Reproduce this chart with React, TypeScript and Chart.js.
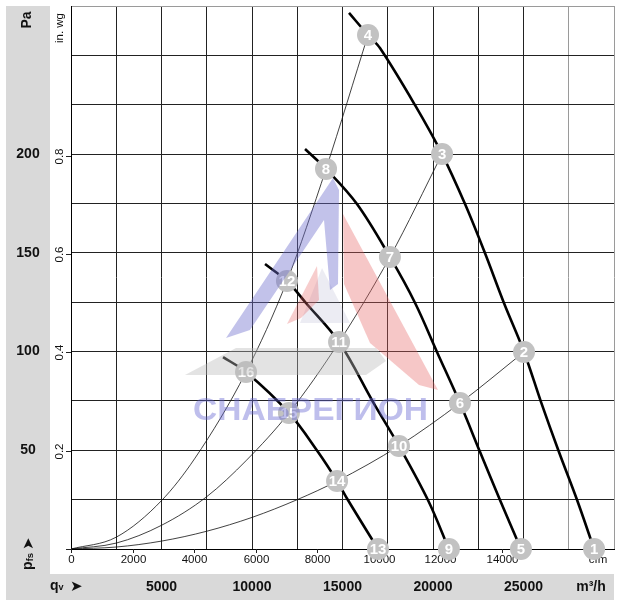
import { useEffect, useRef } from "react";
import { Chart, registerables } from "chart.js";

Chart.register(...registerables);

// ---- axis ranges (m³/h and Pa) ----
const flowMin = 0;
const flowMax = 30000;
const flowStep = 2500;
const pressMin = 0;
const pressMax = 275;
const pressStep = 25;

// ---- tick labels ----
const paLabels = [50, 100, 150, 200];
const m3hLabels = [5000, 10000, 15000, 20000, 25000];
const inwgTicks = [0, 0.2, 0.4, 0.6, 0.8];
const cfmTicks = [0, 2000, 4000, 6000, 8000, 10000, 12000, 14000];
const PA_PER_INWG = 249.089;
const M3H_PER_CFM = 1.699011;

// ---- fan curves (flow m³/h, static pressure Pa) ----
const curveAFlow = [15360, 16410, 17070, 19000, 20500, 21770, 22870, 23920, 25030, 25970, 26960, 27960, 28900];
const curveAPress = [271.5, 260.3, 253.7, 224.9, 200.0, 174.7, 149.9, 124.6, 99.8, 74.4, 49.1, 24.8, 0];
const curveBFlow = [12930, 14090, 15800, 17620, 19010, 20220, 21490, 22600, 23700, 24860];
const curveBPress = [202.6, 192.5, 174.7, 147.9, 124.6, 99.8, 73.9, 49.1, 24.8, 0];
const curveCFlow = [10720, 11930, 12980, 14810, 16690, 18120, 19720, 20880];
const curveCPress = [144.3, 135.7, 124.6, 104.8, 74.4, 52.2, 24.8, 0];
const curveDFlow = [8400, 9670, 12040, 13650, 14700, 15300, 16960];
const curveDPress = [97.2, 89.6, 68.9, 49.1, 34.4, 24.8, 0];

// ---- system curves ----
const sys1Flow = [0, 2500, 5000, 6850, 9670, 11930, 14090, 16410];
const sys1Press = [0, 6, 24.5, 46, 89.6, 135.7, 192.5, 260.3];
const sys2Flow = [0, 2500, 5000, 7500, 9700, 12040, 14810, 17620, 20500];
const sys2Press = [0, 3, 12, 26.5, 45, 68.9, 104.8, 147.9, 200.0];
const sys3Flow = [0, 2500, 5000, 7500, 10000, 12500, 14700, 18120, 21490, 25030];
const sys3Press = [0, 1, 4, 9, 16, 25, 34.4, 52.2, 73.9, 99.8];

// ---- numbered operating points ----
const markerLabels = ["1", "2", "3", "4", "5", "6", "7", "8", "9", "10", "11", "12", "13", "14", "15", "16"];
const markerFlow = [28900, 25030, 20500, 16410, 24860, 21490, 17620, 14090, 20880, 18120, 14810, 11930, 16960, 14700, 12040, 9670];
const markerPress = [0, 99.8, 200.0, 260.3, 0, 73.9, 147.9, 192.5, 0, 52.2, 104.8, 135.7, 0, 34.4, 68.9, 89.6];

const FONT = "'Liberation Sans', Arial, sans-serif";
const BAND = "#d9d9d9";

// watermark shapes, in reference-layout units (chart area = 543 x 543, origin 71,6)
const WM_BLUE = [[333, 178], [226, 338], [250, 330], [324, 220], [330, 290], [338, 284], [339, 190]];
const WM_RED = [[343, 214], [438, 390], [419, 385], [370, 343], [344, 284]];
const WM_RED_SMALL = [[317, 266], [287, 324], [301, 318], [319, 300]];
const WM_GREY = [[185, 375], [236, 348], [376, 348], [386, 361], [366, 375]];
const WM_GREY_TRI = [[322, 268], [300, 323], [350, 323]];

const toPts = (xs: number[], ys: number[]) => xs.map((x, i) => ({ x, y: ys[i] }));

const framePlugin = {
  id: "framePlugin",
  beforeDraw(chart: any) {
    const { ctx, chartArea: ca } = chart;
    ctx.save();
    ctx.fillStyle = "#ffffff";
    ctx.fillRect(0, 0, chart.width, chart.height);
    ctx.fillStyle = BAND;
    const bandLeft = 6;
    const bandRight = ca.left - 21;
    ctx.fillRect(bandLeft, ca.top, bandRight - bandLeft, ca.bottom + 51 - ca.top);
    ctx.fillRect(bandLeft, ca.bottom + 25, ca.right - bandLeft, 26);
    ctx.restore();
  },
  beforeDatasetsDraw(chart: any) {
    const { ctx, chartArea: ca } = chart;
    const xs = chart.scales.x;
    const ys = chart.scales.y;
    const bandMid = (6 + ca.left - 21) / 2;
    ctx.save();
    ctx.fillStyle = "#111";
    ctx.textAlign = "center";
    ctx.textBaseline = "middle";

    // Pa labels
    ctx.font = `bold 14px ${FONT}`;
    for (const v of paLabels) {
      ctx.fillText(String(v), bandMid, ys.getPixelForValue(v));
    }
    // "Pa"
    ctx.save();
    ctx.translate(bandMid - 1, ca.top + 14);
    ctx.rotate(-Math.PI / 2);
    ctx.fillText("Pa", 0, 0);
    ctx.restore();

    // in. wg ticks + labels
    ctx.font = `11.5px ${FONT}`;
    ctx.strokeStyle = "#222";
    ctx.lineWidth = 1;
    for (const v of inwgTicks) {
      const y = Math.round(ys.getPixelForValue(v * PA_PER_INWG)) + 0.5;
      ctx.beginPath();
      ctx.moveTo(ca.left - 5, y);
      ctx.lineTo(ca.left, y);
      ctx.stroke();
      if (v > 0) {
        ctx.save();
        ctx.translate(ca.left - 11, y);
        ctx.rotate(-Math.PI / 2);
        ctx.fillText(v.toFixed(1), 0, 0);
        ctx.restore();
      }
    }
    ctx.save();
    ctx.translate(ca.left - 11, ca.top + 22);
    ctx.rotate(-Math.PI / 2);
    ctx.fillText("in. wg", 0, 0);
    ctx.restore();

    // cfm ticks + labels
    for (const v of cfmTicks) {
      const x = Math.round(xs.getPixelForValue(v * M3H_PER_CFM)) + 0.5;
      ctx.beginPath();
      ctx.moveTo(x, ca.bottom);
      ctx.lineTo(x, ca.bottom + 4);
      ctx.stroke();
      ctx.fillText(String(v), x, ca.bottom + 11);
    }
    ctx.fillText("cfm", ca.right - 16, ca.bottom + 11);

    // m³/h labels
    ctx.font = `bold 14px ${FONT}`;
    const bandY = ca.bottom + 38;
    for (const v of m3hLabels) {
      ctx.fillText(String(v), xs.getPixelForValue(v), bandY);
    }
    ctx.fillText("m³/h", ca.right - 23, bandY);

    // qv ➤
    ctx.textAlign = "left";
    ctx.font = `bold 14px ${FONT}`;
    ctx.fillText("q", 50, bandY - 1);
    ctx.font = `bold 9px ${FONT}`;
    ctx.fillText("v", 58.5, bandY + 1);
    ctx.font = `15px 'DejaVu Sans'`;
    ctx.fillText("➤", 70, bandY);

    // pfs ➤ (vertical)
    ctx.save();
    ctx.translate(bandMid + 1, ca.bottom + 21);
    ctx.rotate(-Math.PI / 2);
    ctx.font = `bold 14px ${FONT}`;
    ctx.fillText("p", 0, -1);
    const pw = ctx.measureText("p").width;
    ctx.font = `bold 9.5px ${FONT}`;
    ctx.fillText("fs", pw, 1);
    const fw = ctx.measureText("fs").width;
    ctx.font = `15px 'DejaVu Sans'`;
    ctx.fillText("➤", pw + fw + 3, 0);
    ctx.restore();

    ctx.restore();
  },
  afterDatasetsDraw(chart: any) {
    const { ctx } = chart;
    const meta = chart.getDatasetMeta(0);
    ctx.save();
    ctx.fillStyle = "#ffffff";
    ctx.font = `bold 15px ${FONT}`;
    ctx.textAlign = "center";
    ctx.textBaseline = "middle";
    meta.data.forEach((el: any, i: number) => {
      ctx.fillText(markerLabels[i], el.x, el.y + 1);
    });
    ctx.restore();
  },
  afterDraw(chart: any) {
    const { ctx, chartArea: ca } = chart;
    const sx = ca.width / 543;
    const sy = ca.height / 543;
    const map = (p: number[]) => [ca.left + (p[0] - 71) * sx, ca.top + (p[1] - 6) * sy];
    const poly = (pts: number[][], fill: string) => {
      ctx.beginPath();
      pts.forEach((p, i) => {
        const [x, y] = map(p);
        if (i === 0) ctx.moveTo(x, y);
        else ctx.lineTo(x, y);
      });
      ctx.closePath();
      ctx.fillStyle = fill;
      ctx.fill();
    };
    ctx.save();
    poly(WM_GREY, "rgba(185,185,185,0.4)");
    poly(WM_GREY_TRI, "rgba(170,170,200,0.22)");
    poly(WM_BLUE, "rgba(110,110,205,0.42)");
    poly(WM_RED, "rgba(230,100,100,0.36)");
    poly(WM_RED_SMALL, "rgba(230,100,100,0.32)");
    // text
    const text = "СНАБРЕГИОН";
    ctx.font = `bold 32px ${FONT}`;
    const w = ctx.measureText(text).width;
    const [tx, ty] = map([193, 420]);
    const targetW = 235 * sx;
    ctx.translate(tx, ty);
    ctx.scale(targetW / w, 1);
    ctx.textAlign = "left";
    ctx.textBaseline = "alphabetic";
    ctx.fillStyle = "rgba(100,100,210,0.42)";
    ctx.fillText(text, 0, 0);
    ctx.restore();
  },
};

export default function App() {
  const canvasRef = useRef<HTMLCanvasElement | null>(null);

  useEffect(() => {
    const canvas = canvasRef.current;
    if (!canvas) return;
    const fan = (xs: number[], ys: number[]) => ({
      data: toPts(xs, ys),
      borderColor: "#000",
      borderWidth: 2.6,
      pointRadius: 0,
      tension: 0.35,
      fill: false,
      order: 1,
    });
    const sys = (xs: number[], ys: number[]) => ({
      data: toPts(xs, ys),
      borderColor: "#111",
      borderWidth: 0.8,
      pointRadius: 0,
      cubicInterpolationMode: "monotone" as const,
      fill: false,
      order: 2,
    });
    const chart = new Chart(canvas, {
      type: "line",
      data: {
        datasets: [
          {
            data: toPts(markerFlow, markerPress),
            showLine: false,
            pointRadius: 11,
            pointHoverRadius: 11,
            pointBackgroundColor: "#c2c2c2",
            pointBorderColor: "rgba(0,0,0,0)",
            pointBorderWidth: 0,
            clip: false,
            order: 0,
          } as any,
          fan(curveAFlow, curveAPress),
          fan(curveBFlow, curveBPress),
          fan(curveCFlow, curveCPress),
          fan(curveDFlow, curveDPress),
          sys(sys1Flow, sys1Press),
          sys(sys2Flow, sys2Press),
          sys(sys3Flow, sys3Press),
        ],
      },
      options: {
        responsive: false,
        animation: false,
        events: [],
        layout: { autoPadding: false, padding: { left: 71, top: 6, right: 8, bottom: 58 } },
        plugins: { legend: { display: false }, tooltip: { enabled: false } },
        scales: {
          x: {
            type: "linear",
            min: flowMin,
            max: flowMax,
            ticks: { display: false, stepSize: flowStep },
            grid: {
              drawTicks: false,
              lineWidth: 1,
              color: (c: any) => (c.tick && c.tick.value >= flowMax - flowStep ? "#9a9a9a" : "#222"),
            },
            border: { display: true, color: "#000", width: 1 },
          },
          y: {
            type: "linear",
            min: pressMin,
            max: pressMax,
            ticks: { display: false, stepSize: pressStep },
            grid: {
              drawTicks: false,
              lineWidth: 1,
              color: (c: any) => (c.tick && c.tick.value >= pressMax ? "#9a9a9a" : "#222"),
            },
            border: { display: true, color: "#000", width: 1 },
          },
        },
      },
      plugins: [framePlugin],
    });
    return () => chart.destroy();
  }, []);

  return (
    <div style={{ position: "absolute", left: 0, top: 0, width: 622, height: 607, background: "#fff" }}>
      <canvas ref={canvasRef} width={622} height={607} style={{ display: "block" }} />
    </div>
  );
}
